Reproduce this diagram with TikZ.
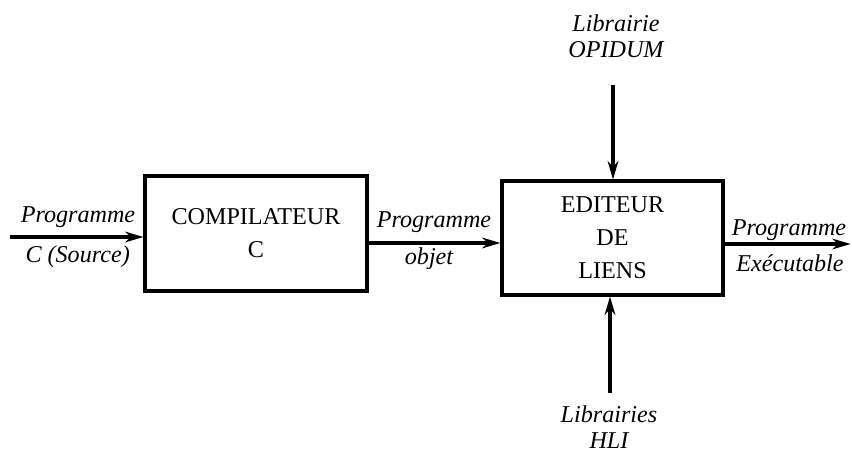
\documentclass[tikz,border=0pt]{standalone}
\usepackage{fontspec}
\setmainfont{Liberation Serif}
\usetikzlibrary{arrows.meta,positioning,calc}

\begin{document}
\begin{tikzpicture}[>={Stealth[length=0.55cm,width=0.32cm]},
    bloc/.style={draw, line width=2.6pt, inner sep=0pt, align=center,
      font=\fontsize{20.6pt}{28pt}\selectfont},
    lbl/.style={font=\fontsize{20.6pt}{22pt}\selectfont\itshape, align=center, inner sep=0pt},
    fleche/.style={->, line width=2.6pt}]
      \useasboundingbox (0,0) rectangle (25.56,13.62);
      % blocs
      \node[bloc, minimum width=6.66cm, minimum height=3.45cm] (comp) at (7.68,6.615) {COMPILATEUR\\C};
      \node[bloc, minimum width=6.63cm, minimum height=3.42cm] (edit) at (18.375,6.48) {EDITEUR\\DE\\LIENS};
      % extremites libres
      \coordinate (src) at (0.3,6.51);
      \coordinate (dst) at (25.52,6.3);
      \coordinate (opi) at (18.39,11.07);
      \coordinate (hli) at (18.3,1.83);
      % fleches
      \draw[fleche] (src) -- (src -| comp.west);
      \draw[fleche] (comp.east |- 0,6.33) -- (edit.west |- 0,6.33);
      \draw[fleche] (edit.east |- dst) -- (dst);
      \draw[fleche] (opi) -- (opi |- edit.north);
      \draw[fleche] (hli) -- (hli |- edit.south);
      % etiquettes
      \node[lbl] (srcA) at (2.34,7.11) {Programme};
      \node[lbl] (srcB) at (2.33,5.91) {C (Source)};
      \node[lbl] (objA) at (13.02,6.96) {Programme};
      \node[lbl] (objB) at (12.87,5.85) {objet};
      \node[lbl] (exeA) at (23.67,6.72) {Programme};
      \node[lbl] (exeB) at (23.7,5.73) {Exécutable};
      \node[lbl] (libopi) at (18.48,12.54) {Librairie\\OPIDUM};
      \node[lbl] (libhli) at (18.27,0.8) {Librairies\\HLI};
\end{tikzpicture}
\end{document}
